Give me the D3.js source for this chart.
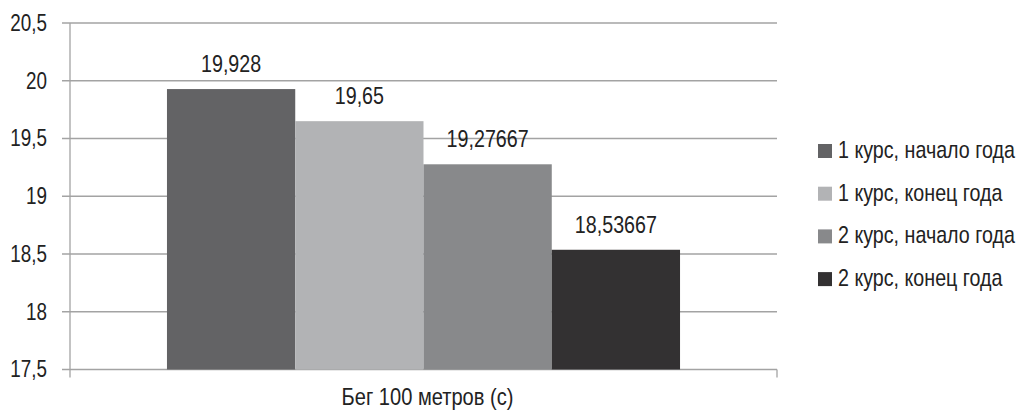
<!DOCTYPE html>
<html><head><meta charset="utf-8">
<script src="https://cdn.jsdelivr.net/npm/d3@7"></script>
<style>
html,body{margin:0;padding:0;background:#fff;}
text{font-family:"Liberation Sans",Arial,sans-serif;fill:#222;}
</style></head>
<body><svg id="c" width="1019" height="411"></svg>
<script>
const categories = ["Бег 100 метров (с)"];
const seriesNames = ["1 курс, начало года","1 курс, конец года","2 курс, начало года","2 курс, конец года"];
const seriesValues = [19.928, 19.65, 19.27667, 18.53667];
const seriesLabels = ["19,928","19,65","19,27667","18,53667"];
const seriesColors = ["#636365","#b2b3b5","#88898b","#333132"];
const yTicks = [17.5,18,18.5,19,19.5,20,20.5];

const SX = 0.82; // condensed look (narrow face)
const svg = d3.select("#c");
const mLeft = 70, mRight = 777, mTop = 23, mBottom = 369.5;
const y = d3.scaleLinear().domain([17.5,20.5]).range([mBottom, mTop]);
const x0 = d3.scaleBand().domain(categories).range([mLeft, mRight]).paddingInner(0).paddingOuter(0.189);
const x1 = d3.scaleBand().domain(seriesNames).range([0, x0.bandwidth()]).padding(0);
const fmt = d => String(d).replace(".", ",");
const tl = () => svg.append("g").attr("transform", `scale(${SX},1)`);

// gridlines
svg.append("g").selectAll("line").data(yTicks).join("line")
  .attr("x1", mLeft-8).attr("x2", mRight)
  .attr("y1", d=>y(d)).attr("y2", d=>y(d))
  .attr("stroke", "#a3a3a3").attr("stroke-width", 1.3);

// bars
categories.forEach(cat => {
  svg.append("g").selectAll("rect").data(seriesNames).join("rect")
    .attr("x", (s)=>x0(cat)+x1(s))
    .attr("width", x1.bandwidth())
    .attr("y", (s,i)=>y(seriesValues[i]))
    .attr("height", (s,i)=>mBottom - y(seriesValues[i]))
    .attr("fill", (s,i)=>seriesColors[i]);
  tl().selectAll("text").data(seriesNames).join("text")
    .attr("x", (s)=>(x0(cat)+x1(s)+x1.bandwidth()/2)/SX)
    .attr("y", (s,i)=>y(seriesValues[i]) - 17)
    .attr("text-anchor","middle")
    .attr("font-size", 24)
    .text((s,i)=>seriesLabels[i]);
});

// axes
svg.append("line").attr("x1", mLeft).attr("x2", mLeft).attr("y1", mTop).attr("y2", mBottom+8)
  .attr("stroke","#a3a3a3").attr("stroke-width",1.3);
svg.append("line").attr("x1", mRight).attr("x2", mRight).attr("y1", mBottom).attr("y2", mBottom+8)
  .attr("stroke","#a3a3a3").attr("stroke-width",1.3);

tl().selectAll("text").data(yTicks).join("text")
  .attr("x", 47/SX).attr("y", d=>y(d)+8)
  .attr("text-anchor","end").attr("font-size",23)
  .text(d=>fmt(d));

tl().selectAll("text").data(categories).join("text")
  .attr("x", d=>(x0(d)+x0.bandwidth()/2 + 4)/SX).attr("y", 405)
  .attr("text-anchor","middle").attr("font-size",24.5)
  .text(d=>d);

// legend
const legRows = seriesNames.map((d,i)=>({name:d, color:seriesColors[i], i}));
svg.append("g").selectAll("rect").data(legRows).join("rect")
  .attr("x",818).attr("y",d=>144 + d.i*42.7).attr("width",14).attr("height",14)
  .attr("fill",d=>d.color);
tl().selectAll("text").data(legRows).join("text")
  .attr("x",838/SX).attr("y",d=>158 + d.i*42.7).attr("font-size",24).text(d=>d.name);
</script></body></html>
